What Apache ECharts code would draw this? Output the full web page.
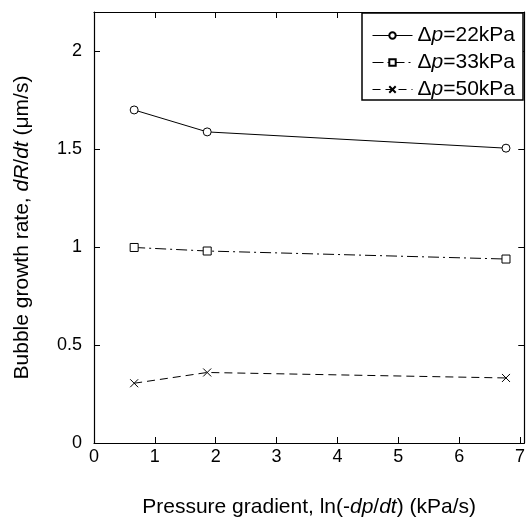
<!DOCTYPE html>
<html>
<head>
<meta charset="utf-8">
<script src="https://cdn.jsdelivr.net/npm/echarts@6/dist/echarts.min.js"></script>
<style>html,body{margin:0;padding:0;background:#fff}#c{width:528px;height:523px}</style>
</head>
<body>
<div id="c"></div>
<script>
const xValues = [0.66, 1.86, 6.77];
const series22 = [1.70, 1.588, 1.505];
const series33 = [0.998, 0.98, 0.939];
const series50 = [0.305, 0.36, 0.332];
const seriesNames = ['22', '33', '50'];
const xTicks = [0, 1, 2, 3, 4, 5, 6, 7];
const yTicks = [0, 0.5, 1, 1.5, 2];

const FONT = 'Liberation Sans, Arial, Helvetica, sans-serif';
const crossPath = 'path://M0,0L10,10M10,0L0,10';

function pairs(ys) { return xValues.map((x, i) => [x, ys[i]]); }

const chart = echarts.init(document.getElementById('c'), null, {renderer: 'canvas'});
function axisBase() {
  return {
    min: 0,
    axisLine: {show: true, onZero: false, lineStyle: {color: '#000', width: 1.2}},
    axisTick: {show: true, inside: true, length: 6, lineStyle: {color: '#000'}},
    splitLine: {show: false}
  };
}
const nameStyle = {color: '#000', fontSize: 21, fontFamily: FONT,
  rich: {i: {fontStyle: 'italic', fontSize: 21, fontFamily: FONT, color: '#000'}}};
chart.setOption({
  animation: false,
  backgroundColor: '#fff',
  grid: {left: 94, right: 1, top: 12, bottom: 78, containLabel: false},
  xAxis: [
    Object.assign(axisBase(), {
      type: 'value', max: 7.07, interval: 1, position: 'bottom',
      axisLabel: {color: '#000', fontSize: 18, fontFamily: FONT, margin: 5,
        formatter: v => xTicks.includes(v) ? String(v) : ''},
      name: 'Pressure gradient, ln(-{i|dp}/{i|dt}) (kPa/s)',
      nameLocation: 'middle', nameGap: 54, nameTextStyle: nameStyle
    }),
    Object.assign(axisBase(), {
      type: 'value', max: 7.07, interval: 1, position: 'top',
      axisLabel: {show: false}
    })
  ],
  yAxis: [
    Object.assign(axisBase(), {
      type: 'value', max: 2.2, interval: 0.5, position: 'left',
      axisLabel: {color: '#000', fontSize: 18, fontFamily: FONT, margin: 12,
        formatter: v => yTicks.includes(v) ? String(v) : ''},
      name: 'Bubble growth rate, {i|dR}/{i|dt} (μm/s)',
      nameLocation: 'middle', nameGap: 61, nameTextStyle: nameStyle
    }),
    Object.assign(axisBase(), {
      type: 'value', max: 2.2, interval: 0.5, position: 'right',
      axisLabel: {show: false}
    })
  ],
  legend: {
    orient: 'vertical', left: 362, top: 13,
    borderColor: '#000', borderWidth: 1.5, backgroundColor: '#fff',
    padding: [12, 8, 0, 10], itemGap: 6, itemWidth: 40, itemHeight: 8,
    lineStyle: {width: 1},
    textStyle: {color: '#000', fontSize: 21, fontFamily: FONT,
      rich: {a: {fontSize: 21, fontFamily: FONT, color: '#000'},
             i: {fontSize: 21, fontFamily: FONT, color: '#000', fontStyle: 'italic'}}},
    formatter: name => '{a|Δ}{i|p}{a|=' + name + 'kPa}',
    data: seriesNames
  },
  series: [
    {name: seriesNames[0], type: 'line', data: pairs(series22), symbol: 'circle', symbolSize: 8,
     lineStyle: {color: '#000', width: 1, type: 'solid'},
     itemStyle: {color: '#fff', borderColor: '#000', borderWidth: 1}},
    {name: seriesNames[1], type: 'line', data: pairs(series33), symbol: 'rect', symbolSize: 8,
     lineStyle: {color: '#000', width: 1, type: [11, 4, 2, 4]},
     itemStyle: {color: '#fff', borderColor: '#000', borderWidth: 1}},
    {name: seriesNames[2], type: 'line', data: pairs(series50), symbol: crossPath, symbolSize: 8,
     lineStyle: {color: '#000', width: 1, type: [8, 5]},
     itemStyle: {color: '#fff', borderColor: '#000', borderWidth: 1}}
  ]
});
</script>
</body>
</html>
